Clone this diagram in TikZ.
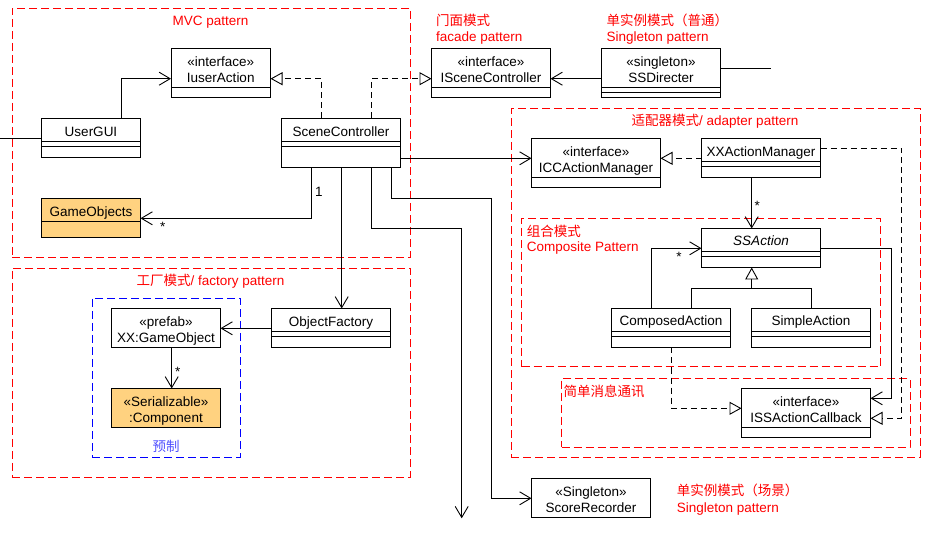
\documentclass[tikz,border=0pt]{standalone}
\usepackage{fontspec}
\setmainfont{Liberation Sans}
\newfontfamily\cjk{Noto Sans CJK SC}
\usetikzlibrary{arrows.meta,fit}
\definecolor{orng}{RGB}{255,210,128}
\definecolor{blu}{RGB}{0,0,255}
\definecolor{blutxt}{RGB}{80,80,255}
\newcommand\umlb[6][white]{\node[ubox, fill=#1, fit={(#3,#4) (#5,#6)}] (#2) {};}
\newcommand\dvd[2]{\draw[conn] (#1.west |- 0,#2) -- (#1.east |- 0,#2);}
\begin{document}
\begin{tikzpicture}[x=1pt,y=-1pt,
  ubox/.style={draw, line width=0.9pt, inner sep=0pt, outer sep=0pt},
  lbl/.style={font=\fontsize{13.5}{16}\selectfont, inner sep=0pt, anchor=base},
  rlbl/.style={lbl, text=red},
  frame/.style={draw=red, line width=0.9pt, dash pattern=on 8pt off 4pt, inner sep=0pt, outer sep=0pt},
  conn/.style={line width=0.9pt},
  oarr/.style={conn, -{Straight Barb[length=11pt,width=13pt]}},
  real/.style={conn, dash pattern=on 6pt off 4pt, -{Triangle[open,length=12pt,width=13pt]}},
  gen/.style={conn, -{Triangle[open,length=12pt,width=13pt]}}]
\useasboundingbox (0,0) rectangle (938,540);
\fill[white] (0,0) rectangle (938,540);
% frames
\node[frame, fit={(12,8) (410,257)}] (mvc) {};
\node[frame, fit={(12,268) (410,477)}] (fac) {};
\node[frame, draw=blu, fit={(92,298) (240,457)}] (pre) {};
\node[frame, fit={(511.4,108.3) (920,457.3)}] (ada) {};
\node[frame, fit={(521.7,218.3) (880.7,366.7)}] (com) {};
\node[frame, fit={(561.7,378.3) (910,447.3)}] (msg) {};
% frame labels
\node[rlbl] (mvcl) at (210.5,26) {MVC pattern};
\node[rlbl] (facl) at (210.5,286) {{\cjk 工厂模式}/ factory pattern};
\node[lbl, text=blutxt] (prel) at (166,451.5) {\cjk 预制};
\node[rlbl, anchor=base west] (fcdl1) at (436,26) {\cjk 门面模式};
\node[rlbl, anchor=base west] (fcdl2) at (436,42) {facade pattern};
\node[rlbl, anchor=base west] (sgal1) at (606.5,26) {\cjk 单实例模式（普通）};
\node[rlbl, anchor=base west] (sgal2) at (606.5,42) {Singleton pattern};
\node[rlbl] (adal) at (715,126) {{\cjk 适配器模式}/ adapter pattern};
\node[rlbl, anchor=base west] (coml1) at (526.7,236.5) {\cjk 组合模式};
\node[rlbl, anchor=base west] (coml2) at (526.7,252) {Composite Pattern};
\node[rlbl, anchor=base west] (msgl) at (563.3,396.5) {\cjk 简单消息通讯};
\node[rlbl, anchor=base west] (sgbl1) at (676.7,495.5) {\cjk 单实例模式（场景）};
\node[rlbl, anchor=base west] (sgbl2) at (676.7,512) {Singleton pattern};
% boxes
\umlb{iua}{171}{48.5}{270.5}{97.5}\dvd{iua}{87.5}
\node[lbl] (iuat1) at (220.75,66.5) {«interface»};
\node[lbl] (iuat2) at (220.75,82.3) {IuserAction};
\umlb{gui}{41.5}{118}{140.5}{157.5}\dvd{gui}{141.5}\dvd{gui}{146.5}
\node[lbl] (guit) at (91,136.5) {UserGUI};
\umlb{sc}{281.5}{118}{400.5}{167.5}\dvd{sc}{141.5}\dvd{sc}{146.5}
\node[lbl] (sct) at (341,136.5) {SceneController};
\umlb[orng]{gob}{41.5}{198.5}{140.5}{237.5}\dvd{gob}{221}
\node[lbl] (gobt) at (91,216.2) {GameObjects};
\umlb{isc}{431.5}{48.5}{550.5}{97.5}\dvd{isc}{87.5}
\node[lbl] (isct1) at (491,66.5) {«interface»};
\node[lbl] (isct2) at (491,82.3) {ISceneController};
\umlb{ssd}{601.5}{48.5}{720.5}{97.5}\dvd{ssd}{87.5}\dvd{ssd}{92.5}
\node[lbl] (ssdt1) at (661,66.5) {«singleton»};
\node[lbl] (ssdt2) at (661,82.3) {SSDirecter};
\umlb{icc}{531.5}{138.5}{660.5}{187.5}\dvd{icc}{177.5}
\node[lbl] (icct1) at (596,156.5) {«interface»};
\node[lbl] (icct2) at (596,172.3) {ICCActionManager};
\umlb{xxm}{701.5}{138.5}{820.5}{177.5}\dvd{xxm}{161.5}\dvd{xxm}{166.5}
\node[lbl] (xxmt) at (761,156.5) {XXActionManager};
\umlb{ssa}{701.5}{228.5}{820.5}{267.5}\dvd{ssa}{251.5}\dvd{ssa}{256.5}
\node[lbl] (ssat) at (761,246) {\textit{SSAction}};
\umlb{cpa}{611.5}{308.5}{730.5}{347.5}\dvd{cpa}{331.5}\dvd{cpa}{336.5}
\node[lbl] (cpat) at (671,325.8) {ComposedAction};
\umlb{spa}{751.5}{308.5}{870.5}{347.5}\dvd{spa}{331.5}\dvd{spa}{336.5}
\node[lbl] (spat) at (811,325.8) {SimpleAction};
\umlb{cb}{741.5}{388.5}{870.5}{437.5}\dvd{cb}{427.5}
\node[lbl] (cbt1) at (806,406.5) {«interface»};
\node[lbl] (cbt2) at (806,422.3) {ISSActionCallback};
\umlb{ofa}{271.5}{308.5}{390.5}{347.5}\dvd{ofa}{331.5}\dvd{ofa}{336.5}
\node[lbl] (ofat) at (331,326.3) {ObjectFactory};
\umlb{xgo}{111.5}{308.5}{220.5}{347.5}
\node[lbl] (xgot1) at (166,326.5) {«prefab»};
\node[lbl] (xgot2) at (166,342.3) {XX:GameObject};
\umlb[orng]{cmp}{111.5}{388.5}{220.5}{427.5}
\node[lbl] (cmpt1) at (166,406.5) {«Serializable»};
\node[lbl] (cmpt2) at (166,422.3) {:Component};
\umlb{scr}{531.5}{478.5}{650.5}{517.5}
\node[lbl] (scrt1) at (591,496.5) {«Singleton»};
\node[lbl] (scrt2) at (591,512.3) {ScoreRecorder};
% connectors
\coordinate (lft) at (0,138);
\draw[conn] (gui.west |- lft) -- (lft);
\coordinate (ssdend) at (771.3,68.7);
\draw[conn] (ssd.east |- ssdend) -- (ssdend);
\draw[oarr] (gui.north -| 121.3,0) |- (iua.west |- 0,78.7);
\draw[real] (sc.north -| 321.7,0) |- (iua.east |- 0,78.7);
\draw[real] (sc.north -| 371.7,0) |- (isc.west |- 0,78.7);
\draw[oarr] (ssd.west |- 0,78.7) -- (isc.east |- 0,78.7);
\draw[oarr] (sc.south -| 311.7,0) |- (gob.east |- 0,218.3);
\node[lbl] (m1) at (319,197) {1};
\node[lbl] (m2) at (162.7,231.8) {*};
\draw[oarr] (sc.south -| 341.7,0) -- (ofa.north -| 341.7,0);
\coordinate (dn) at (461.7,518.3);
\draw[oarr] (sc.south -| 371.7,0) |- (461.7,228.3) -- (dn);
\draw[oarr] (sc.south -| 391.7,0) |- (491.7,198.3) |- (scr.west |- 0,498.3);
\draw[oarr] (sc.east |- 0,158.3) -- (icc.west |- 0,158.3);
\draw[real] (xxm.west |- 0,158.3) -- (icc.east |- 0,158.3);
\draw[oarr] (xxm.south -| 751.7,0) -- (ssa.north -| 751.7,0);
\node[lbl] (m3) at (757.3,211) {*};
\draw[real] (xxm.east |- 0,148.3) -| (901.7,418.3) -- (cb.east |- 0,418.3);
\draw[oarr] (ssa.east |- 0,248.3) -| (891,398.3) -- (cb.east |- 0,398.3);
\coordinate (gj) at (751.7,288.3);
\draw[gen] (gj) -- (ssa.south -| gj);
\draw[conn] (cpa.north -| 691,0) |- (gj) -| (spa.north -| 811.7,0);
\draw[oarr] (cpa.north -| 651.7,0) |- (ssa.west |- 0,248.3);
\node[lbl] (m4) at (679,261.8) {*};
\draw[real] (cpa.south -| 671.7,0) |- (cb.west |- 0,408.3);
\draw[oarr] (ofa.west |- 0,328.3) -- (xgo.east |- 0,328.3);
\draw[oarr] (xgo.south -| 171.7,0) -- (cmp.north -| 171.7,0);
\node[lbl] (m5) at (177.7,377) {*};
\end{tikzpicture}
\end{document}
